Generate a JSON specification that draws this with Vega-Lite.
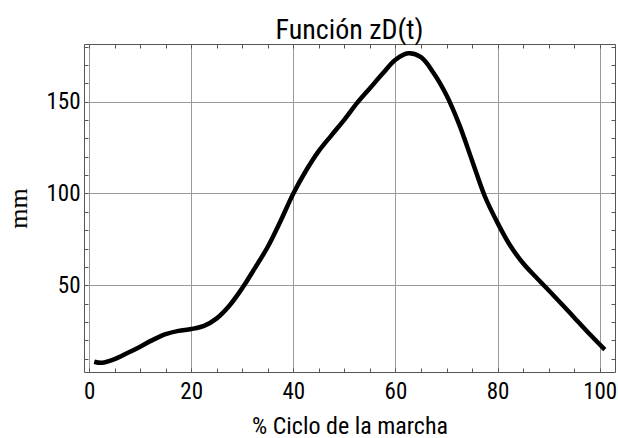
{
  "$schema": "https://vega.github.io/schema/vega-lite/v6.json",
  "width": 531,
  "height": 328,
  "autosize": {"type": "none"},
  "padding": {"left": 84, "top": 44, "right": 3, "bottom": 66},
  "background": "white",
  "config": {
    "view": {"stroke": "#555", "strokeWidth": 1},
    "axis": {"domain": false, "labelColor": "black", "titleColor": "black"}
  },
  "title": {
    "text": "Función zD(t)",
    "font": "Liberation Sans Narrow, Roboto Condensed, Liberation Sans",
    "fontSize": 28,
    "fontWeight": "normal",
    "color": "black",
    "anchor": "middle",
    "baseline": "alphabetic",
    "offset": -23
  },
  "data": {
    "values": [
      {"t": 1, "z": 8.4},
      {"t": 2.5, "z": 7.8},
      {"t": 5, "z": 9.8},
      {"t": 7.5, "z": 13.1},
      {"t": 10, "z": 16.6},
      {"t": 12.5, "z": 20.3},
      {"t": 15, "z": 23.4},
      {"t": 17.5, "z": 25.2},
      {"t": 20, "z": 26.2},
      {"t": 22.5, "z": 27.9},
      {"t": 25, "z": 32},
      {"t": 27.5, "z": 39},
      {"t": 30, "z": 48.5},
      {"t": 32.5, "z": 59.5},
      {"t": 35, "z": 71},
      {"t": 37.5, "z": 85},
      {"t": 40, "z": 100},
      {"t": 42.5, "z": 112.5},
      {"t": 45, "z": 123.2},
      {"t": 47.5, "z": 131.8},
      {"t": 50, "z": 140.2},
      {"t": 52.5, "z": 149.3},
      {"t": 55, "z": 157.3},
      {"t": 57.5, "z": 165.3},
      {"t": 60, "z": 172.8},
      {"t": 62.5, "z": 176.3},
      {"t": 65, "z": 174.2},
      {"t": 67.5, "z": 165.5},
      {"t": 70, "z": 153.5},
      {"t": 72.5, "z": 137.5},
      {"t": 75, "z": 118},
      {"t": 77.5, "z": 98.5},
      {"t": 80, "z": 84},
      {"t": 82.5, "z": 71.5},
      {"t": 85, "z": 62},
      {"t": 87.5, "z": 54.5},
      {"t": 90, "z": 47.3},
      {"t": 92.5, "z": 40},
      {"t": 95, "z": 32.5},
      {"t": 97.5, "z": 25},
      {"t": 101, "z": 15}
    ]
  },
  "resolve": {"axis": {"x": "independent", "y": "independent"}},
  "layer": [
    {
      "mark": {"type": "line", "color": "black", "strokeWidth": 4.5, "interpolate": "catmull-rom", "clip": true},
      "encoding": {
        "x": {
          "field": "t", "type": "quantitative",
          "scale": {"domain": [-1, 103], "nice": false, "zero": false},
          "axis": {
            "orient": "bottom",
            "values": [0, 20, 40, 60, 80, 100],
            "grid": true, "gridColor": "#999", "gridWidth": 1,
            "ticks": false,
            "labelFont": "Liberation Sans Narrow, Roboto Condensed, Liberation Sans",
            "labelFontSize": 23,
            "labelPadding": 8,
            "title": "% Ciclo de la marcha",
            "titleFont": "Liberation Sans Narrow, Roboto Condensed, Liberation Sans",
            "titleFontSize": 24,
            "titleFontWeight": "normal",
            "titlePadding": 11
          }
        },
        "y": {
          "field": "z", "type": "quantitative",
          "scale": {"domain": [2.8, 181.4], "nice": false, "zero": false},
          "axis": {
            "orient": "left",
            "values": [50, 100, 150],
            "grid": true, "gridColor": "#999", "gridWidth": 1,
            "ticks": false,
            "labelFont": "Liberation Sans Narrow, Roboto Condensed, Liberation Sans",
            "labelFontSize": 23,
            "labelPadding": 4,
            "title": "mm",
            "titleFont": "Liberation Serif",
            "titleFontSize": 26,
            "titleFontWeight": "normal",
            "titlePadding": 14
          }
        }
      }
    },
    {
      "mark": {"type": "line", "strokeOpacity": 0},
      "encoding": {
        "x": {
          "field": "t", "type": "quantitative",
          "axis": {
            "orient": "bottom",
            "values": [0, 5, 10, 15, 20, 25, 30, 35, 40, 45, 50, 55, 60, 65, 70, 75, 80, 85, 90, 95, 100],
            "labels": false, "grid": false, "title": null,
            "ticks": true, "tickSize": -4, "tickColor": "#555"
          }
        },
        "y": {
          "field": "z", "type": "quantitative",
          "axis": {
            "orient": "left",
            "values": [10, 20, 30, 40, 50, 60, 70, 80, 90, 100, 110, 120, 130, 140, 150, 160, 170, 180],
            "labels": false, "grid": false, "title": null,
            "ticks": true, "tickSize": -4, "tickColor": "#555"
          }
        }
      }
    },
    {
      "mark": {"type": "line", "strokeOpacity": 0},
      "encoding": {
        "x": {
          "field": "t", "type": "quantitative",
          "axis": {
            "orient": "top",
            "values": [0, 5, 10, 15, 20, 25, 30, 35, 40, 45, 50, 55, 60, 65, 70, 75, 80, 85, 90, 95, 100],
            "labels": false, "grid": false, "title": null,
            "ticks": true, "tickSize": -4, "tickColor": "#555"
          }
        },
        "y": {
          "field": "z", "type": "quantitative",
          "axis": {
            "orient": "right",
            "values": [10, 20, 30, 40, 50, 60, 70, 80, 90, 100, 110, 120, 130, 140, 150, 160, 170, 180],
            "labels": false, "grid": false, "title": null,
            "ticks": true, "tickSize": -4, "tickColor": "#555"
          }
        }
      }
    }
  ]
}
